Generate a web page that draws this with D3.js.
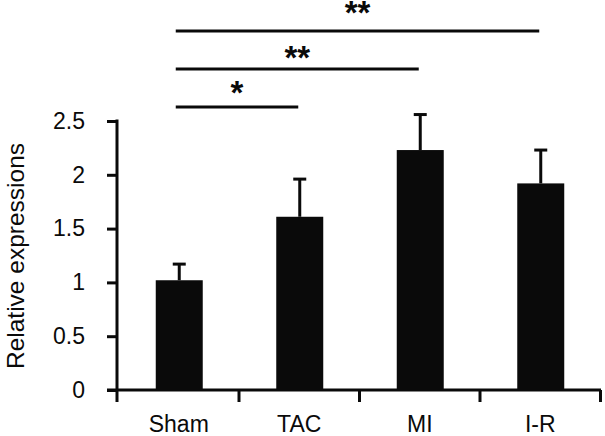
<!DOCTYPE html>
<html><head><meta charset="utf-8">
<script src="https://cdn.jsdelivr.net/npm/d3@7"></script>
<style>body{margin:0;background:#fff}svg{display:block}</style>
</head><body>
<svg id="c" width="605" height="436"></svg>
<script>
const categories = ["Sham", "TAC", "MI", "I-R"];
const values = [1.02, 1.61, 2.23, 1.92];
const errors = [0.15, 0.35, 0.33, 0.31];
const yTicks = [0, 0.5, 1, 1.5, 2, 2.5];
const yTickLabels = ["0", "0.5", "1", "1.5", "2", "2.5"];
const comparisons = [["Sham", "I-R"], ["Sham", "MI"], ["Sham", "TAC"]];
const compLabels = ["**", "**", "*"];

const svg = d3.select("#c");
const font = "Liberation Sans, Arial, sans-serif";
const ink = "#0a0a0a";
const x = d3.scaleBand().domain(categories).range([118.5, 600.5]).padding(0);
const y = d3.scaleLinear().domain([0, 2.5]).range([390, 121]);
const barW = x.bandwidth() * 0.39;

// bars
svg.selectAll("rect.bar").data(categories).enter().append("rect")
  .attr("x", d => x(d) + x.bandwidth()/2 - barW/2 + 0.5)
  .attr("y", (d,i) => y(values[i]))
  .attr("width", barW)
  .attr("height", (d,i) => y(0) - y(values[i]))
  .attr("fill", ink);

// error bars
const eg = svg.append("g").attr("stroke", ink).attr("stroke-width", 3);
categories.forEach((c,i) => {
  const cx = x(c) + x.bandwidth()/2 + 0.5;
  eg.append("line").attr("x1", cx).attr("x2", cx).attr("y1", y(values[i])).attr("y2", y(values[i]+errors[i]));
  eg.append("line").attr("x1", cx-6.5).attr("x2", cx+6.5).attr("y1", y(values[i]+errors[i])).attr("y2", y(values[i]+errors[i]));
});

// y axis
const ya = svg.append("g").attr("transform", "translate(117,0)")
  .call(d3.axisLeft(y).tickValues(yTicks).tickFormat((d,i)=>yTickLabels[i]).tickSize(10).tickPadding(22));
ya.select(".domain").remove();
ya.selectAll("line").attr("stroke", ink).attr("stroke-width", 3);
ya.selectAll("text").attr("font-family", font).attr("font-size", 23).attr("fill", ink);
svg.append("line").attr("x1",117).attr("x2",117).attr("y1",y(2.5)-1.5).attr("y2",402).attr("stroke",ink).attr("stroke-width",3);

// x axis
svg.append("line").attr("x1",107).attr("x2",601).attr("y1",390).attr("y2",390).attr("stroke",ink).attr("stroke-width",3);
svg.selectAll("line.xt").data(categories).enter().append("line")
  .attr("x1", d => x(d)+x.bandwidth()).attr("x2", d => x(d)+x.bandwidth())
  .attr("y1", 390).attr("y2", 402).attr("stroke", ink).attr("stroke-width", 3);
const xa = svg.append("g").attr("transform", "translate(0,390)")
  .call(d3.axisBottom(x).tickSize(0).tickPadding(26));
xa.select(".domain").remove();
xa.selectAll("text").attr("font-family", font).attr("font-size", 23).attr("fill", ink);

// y label
svg.append("text").attr("transform", "translate(24,256) rotate(-90)")
  .attr("text-anchor","middle").attr("font-family", font).attr("font-size", 24.5).attr("fill", ink)
  .text("Relative expressions");

// significance
const lineYs = [31, 69, 107];
const starCenters = [9, 54, 89];
const starSize = 33;
comparisons.forEach((cmp,i) => {
  const x1 = x(cmp[0]) + x.bandwidth()/2 - 3;
  const x2 = x(cmp[1]) + x.bandwidth()/2 - 1;
  svg.append("line").attr("x1",x1).attr("x2",x2).attr("y1",lineYs[i]).attr("y2",lineYs[i]).attr("stroke",ink).attr("stroke-width",3);
  svg.append("text").attr("x",(x1+x2)/2).attr("y",starCenters[i] + starSize*0.44).attr("text-anchor","middle")
    .attr("font-family",font).attr("font-weight","bold").attr("font-size",starSize).attr("fill",ink).text(compLabels[i]);
});
</script>
</body></html>
